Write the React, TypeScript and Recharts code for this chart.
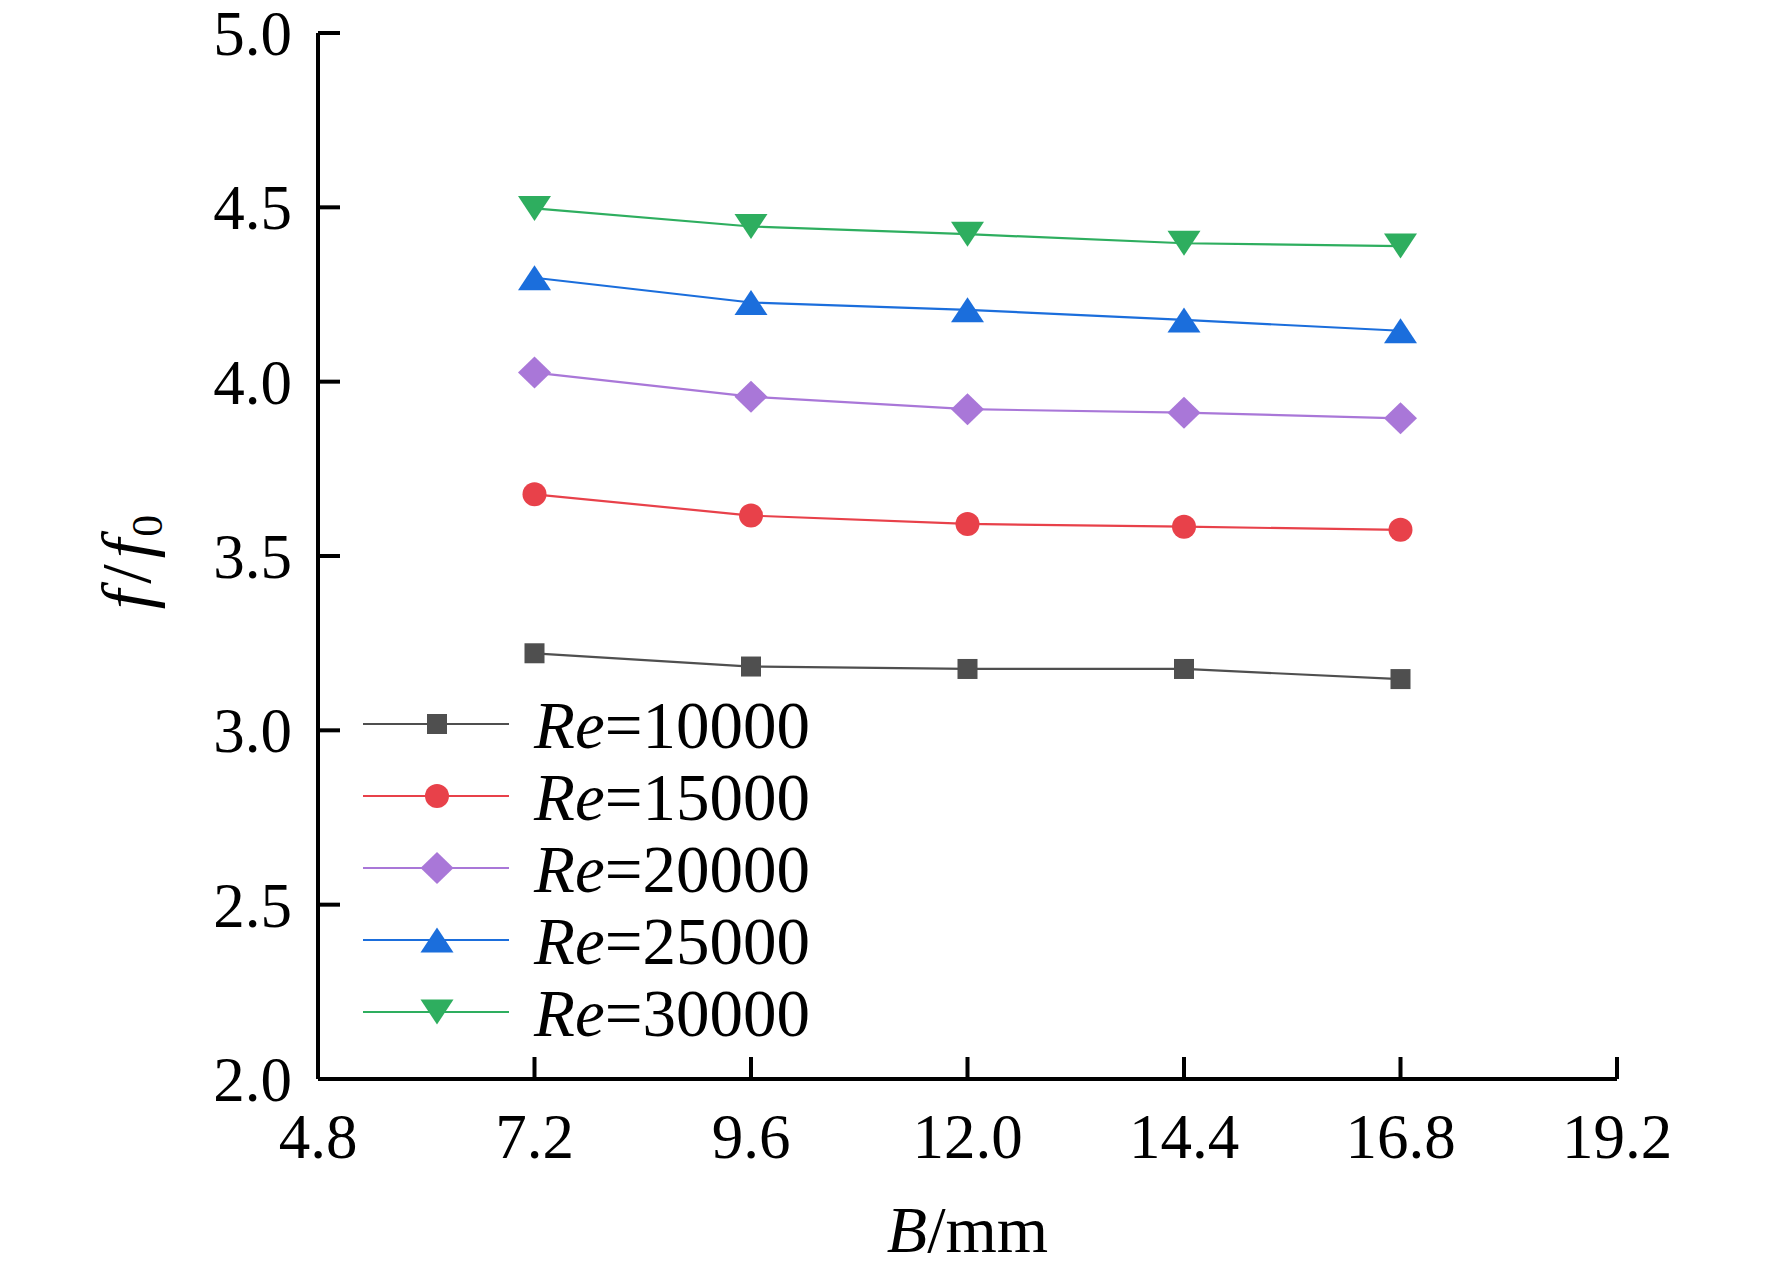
import React from "react";
import { LineChart, Line, XAxis, YAxis, Legend } from "recharts";

// B (mm) positions
const widths = [7.2, 9.6, 12.0, 14.4, 16.8];

// f/f0 per Reynolds number
const re10000 = [3.221, 3.183, 3.176, 3.176, 3.147];
const re15000 = [3.677, 3.616, 3.592, 3.584, 3.575];
const re20000 = [4.026, 3.957, 3.921, 3.911, 3.895];
const re25000 = [4.298, 4.227, 4.206, 4.177, 4.146];
const re30000 = [4.497, 4.445, 4.423, 4.397, 4.389];

const xTicks = [4.8, 7.2, 9.6, 12.0, 14.4, 16.8, 19.2];
const yTicks = [2.0, 2.5, 3.0, 3.5, 4.0, 4.5, 5.0];
const reLabels = ["10000", "15000", "20000", "25000", "30000"];

type Shape = "square" | "circle" | "diamond" | "triangle" | "triangleDown";

const series: { key: string; values: number[]; color: string; shape: Shape }[] = [
  { key: "re10000", values: re10000, color: "#4f4f4f", shape: "square" },
  { key: "re15000", values: re15000, color: "#e8414a", shape: "circle" },
  { key: "re20000", values: re20000, color: "#a977d8", shape: "diamond" },
  { key: "re25000", values: re25000, color: "#1b6edc", shape: "triangle" },
  { key: "re30000", values: re30000, color: "#2eae5f", shape: "triangleDown" },
];

const data = widths.map((b, i) => {
  const row: Record<string, number> = { b };
  series.forEach((s) => (row[s.key] = s.values[i]));
  return row;
});

const W = 1772;
const H = 1272;
const LEFT = 318;
const RIGHT = 155;
const TOP = 33;
const BOTTOM = 193;
const FONT = "'Liberation Serif', 'Times New Roman', serif";
const FS = 63;
const TICK_LEN = 22;

const Marker = ({ shape, cx, cy, color }: { shape: Shape; cx: number; cy: number; color: string }) => {
  switch (shape) {
    case "square":
      return <rect x={cx - 10} y={cy - 10} width={20} height={20} fill={color} />;
    case "circle":
      return <circle cx={cx} cy={cy} r={12} fill={color} />;
    case "diamond":
      return (
        <polygon
          points={`${cx},${cy - 16} ${cx + 16.5},${cy} ${cx},${cy + 16} ${cx - 16.5},${cy}`}
          fill={color}
        />
      );
    case "triangle":
      return (
        <polygon
          points={`${cx},${cy - 12.5} ${cx + 16.5},${cy + 12.5} ${cx - 16.5},${cy + 12.5}`}
          fill={color}
        />
      );
    default:
      return (
        <polygon
          points={`${cx - 16.5},${cy - 12.5} ${cx + 16.5},${cy - 12.5} ${cx},${cy + 12.5}`}
          fill={color}
        />
      );
  }
};

const XTick = (props: any) => {
  const x = props.payload.coordinate;
  const axisY = H - BOTTOM;
  return (
    <g>
      <line x1={x} y1={axisY} x2={x} y2={axisY - TICK_LEN} stroke="#000" strokeWidth={4} />
      <text x={x} y={axisY + 79} textAnchor="middle" fontFamily={FONT} fontSize={FS} fill="#000">
        {props.payload.value.toFixed(1)}
      </text>
    </g>
  );
};

const YTick = (props: any) => {
  const y = props.payload.coordinate;
  return (
    <g>
      <line x1={LEFT} y1={y} x2={LEFT + TICK_LEN} y2={y} stroke="#000" strokeWidth={4} />
      <text x={LEFT - 26} y={y + 22} textAnchor="end" fontFamily={FONT} fontSize={FS} fill="#000">
        {props.payload.value.toFixed(1)}
      </text>
    </g>
  );
};

const LegendBox = () => (
  <svg width={540} height={380} style={{ display: "block" }}>
    {series.map((s, i) => {
      const y = 44 + i * 72;
      return (
        <g key={s.key}>
          <line x1={33} y1={y} x2={179} y2={y} stroke={s.color} strokeWidth={2.2} />
          <Marker shape={s.shape} cx={107} cy={y} color={s.color} />
          <text x={204} y={y + 24} fontFamily={FONT} fontSize={67} fill="#000">
            <tspan fontStyle="italic">Re</tspan>
            <tspan>={reLabels[i]}</tspan>
          </text>
        </g>
      );
    })}
  </svg>
);

export default function App() {
  return (
    <div style={{ position: "absolute", left: 0, top: 0, width: W, height: H, background: "#fff" }}>
      <LineChart width={W} height={H} data={data} margin={{ top: TOP, right: RIGHT, left: 0, bottom: 0 }}>
        <XAxis
          dataKey="b"
          type="number"
          domain={[4.8, 19.2]}
          ticks={xTicks}
          height={BOTTOM}
          tickSize={0}
          tickLine={false}
          axisLine={{ stroke: "#000", strokeWidth: 4 }}
          tick={<XTick />}
          interval={0}
          label={{
            content: () => (
              <text
                x={(LEFT + W - RIGHT) / 2}
                y={1252}
                textAnchor="middle"
                fontFamily={FONT}
                fontSize={66}
                fill="#000"
              >
                <tspan fontStyle="italic">B</tspan>
                <tspan>/mm</tspan>
              </text>
            ),
          }}
        />
        <YAxis
          type="number"
          domain={[2, 5]}
          ticks={yTicks}
          width={LEFT}
          tickSize={0}
          tickLine={false}
          axisLine={{ stroke: "#000", strokeWidth: 4 }}
          tick={<YTick />}
          interval={0}
          label={{
            content: () => {
              const cx = 150;
              const cy = (TOP + H - BOTTOM) / 2 + 6;
              return (
                <text
                  x={cx}
                  y={cy}
                  textAnchor="middle"
                  transform={`rotate(-90, ${cx}, ${cy})`}
                  fontFamily={FONT}
                  fontSize={70}
                  fill="#000"
                >
                  <tspan fontStyle="italic">f</tspan>
                  <tspan dx={6}>/</tspan>
                  <tspan fontStyle="italic" dx={6}>f</tspan>
                  <tspan fontSize={44} dy={12} dx={2}>0</tspan>
                </text>
              );
            },
          }}
        />
        <Legend
          layout="vertical"
          align="center"
          verticalAlign="middle"
          content={<LegendBox />}
          wrapperStyle={{ left: 330, top: 680, width: 540, height: 380 }}
        />
        {series.map((s) => (
          <Line
            key={s.key}
            dataKey={s.key}
            name={`Re=${s.key.slice(2)}`}
            stroke={s.color}
            strokeWidth={2.2}
            isAnimationActive={false}
            dot={(p: any) => <Marker key={`${s.key}-${p.index}`} shape={s.shape} cx={p.cx} cy={p.cy} color={s.color} />}
            activeDot={false}
          />
        ))}
      </LineChart>
    </div>
  );
}
